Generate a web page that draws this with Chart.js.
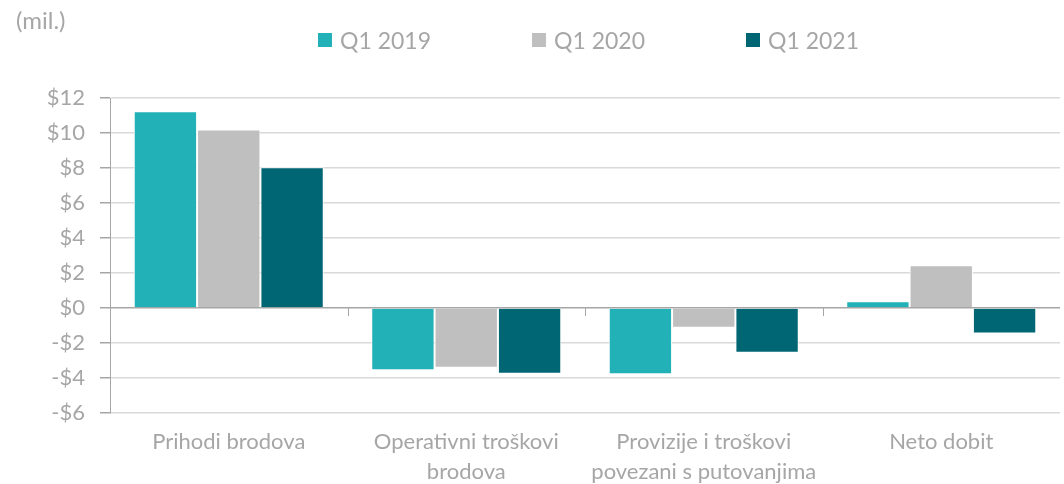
<!DOCTYPE html>
<html>
<head>
<meta charset="utf-8">
<script src="https://cdn.jsdelivr.net/npm/chart.js@4/dist/chart.umd.min.js"></script>
<style>
html,body{margin:0;padding:0;background:#fff;}
#wrap{position:relative;width:1064px;height:484px;font-family:Lato,"Noto Sans",sans-serif;color:#a6a6a6;}
#c{position:absolute;left:0;top:0;}
#unit{position:absolute;left:16px;top:5px;font-size:24px;line-height:30px;}
#legend{position:absolute;left:318px;top:26px;display:flex;gap:101px;font-size:23px;line-height:28px;}
#legend .item{display:flex;align-items:center;}
#legend .box{width:14px;height:14px;margin-right:8px;}
</style>
</head>
<body>
<div id="wrap">
<canvas id="c" width="1064" height="484"></canvas>
<div id="unit">(mil.)</div>
<div id="legend"></div>
</div>
<script>
// =============================
// DATA
// =============================
const categories = [
  "Prihodi brodova",
  ["Operativni troškovi", "brodova"],
  ["Provizije i troškovi", "povezani s putovanjima"],
  "Neto dobit"
]
const seriesNames = ["Q1 2019", "Q1 2020", "Q1 2021"]
const q1_2019 = [11.25, -3.55, -3.78, 0.38]
const q1_2020 = [10.2, -3.42, -1.13, 2.45]
const q1_2021 = [8.05, -3.76, -2.56, -1.45]
const yTicks = [12, 10, 8, 6, 4, 2, 0, -2, -4, -6]

const colors = ["#21b1b6", "#bfbfbf", "#006673"]
const textColor = "#a6a6a6"
const font = "Lato, 'Noto Sans', sans-serif"

// =============================
// LEGEND
// =============================
let legendEl = document.getElementById("legend")
seriesNames.forEach((name, i) => {
  let item = document.createElement("div")
  item.className = "item"
  item.innerHTML = "<span class='box' style='background:" + colors[i] + "'></span><span>" + name + "</span>"
  legendEl.appendChild(item)
})

// small category tick marks on the zero line
const zeroTicks = {
  id: "zeroTicks",
  afterDatasetsDraw(chart) {
    let x = chart.scales.x
    let y = chart.scales.y
    let y0 = y.getPixelForValue(0)
    let c = chart.ctx
    c.save()
    c.strokeStyle = "#a6a6a6"
    c.lineWidth = 1
    for (let i = 0; i < categories.length - 1; i++) {
      let px = (x.getPixelForTick(i) + x.getPixelForTick(i + 1)) / 2
      c.beginPath()
      c.moveTo(Math.round(px) + 0.5, y0)
      c.lineTo(Math.round(px) + 0.5, y0 + 8)
      c.stroke()
    }
    c.restore()
  }
}

// =============================
// CHART
// =============================
const ctx = document.getElementById("c").getContext("2d")

new Chart(ctx, {
  type: "bar",
  data: {
    labels: categories,
    datasets: [q1_2019, q1_2020, q1_2021].map((vals, i) => ({
      label: seriesNames[i],
      data: vals,
      backgroundColor: colors[i],
      borderColor: "#ffffff",
      borderWidth: 1,
      categoryPercentage: 0.8,
      barPercentage: 1.0
    }))
  },
  plugins: [zeroTicks],
  options: {
    responsive: false,
    animation: false,
    layout: { padding: { top: 98, right: 4, left: 0, bottom: 0 } },
    plugins: {
      legend: { display: false },
      tooltip: { enabled: false }
    },
    scales: {
      x: {
        grid: { display: false, drawTicks: false },
        border: { display: false },
        ticks: {
          color: textColor,
          padding: 14,
          font: { family: font, size: 22, lineHeight: 1.36 },
          maxRotation: 0
        },
        afterFit: scale => { scale.height = 71 }
      },
      y: {
        min: -6,
        max: 12,
        afterBuildTicks: scale => { scale.ticks = yTicks.map(v => ({ value: v })) },
        afterFit: scale => { scale.width = 110 },
        border: { display: true, color: "#a6a6a6", width: 1 },
        grid: {
          color: c => c.tick && c.tick.value === 0 ? "#a6a6a6" : "#d9d9d9",
          lineWidth: 1.5,
          tickColor: "#a6a6a6",
          tickLength: 10
        },
        ticks: {
          color: textColor,
          padding: 15,
          font: { family: font, size: 22 },
          callback: v => v < 0 ? "-$" + Math.abs(v) : "$" + v
        }
      }
    }
  }
})
</script>
</body>
</html>
